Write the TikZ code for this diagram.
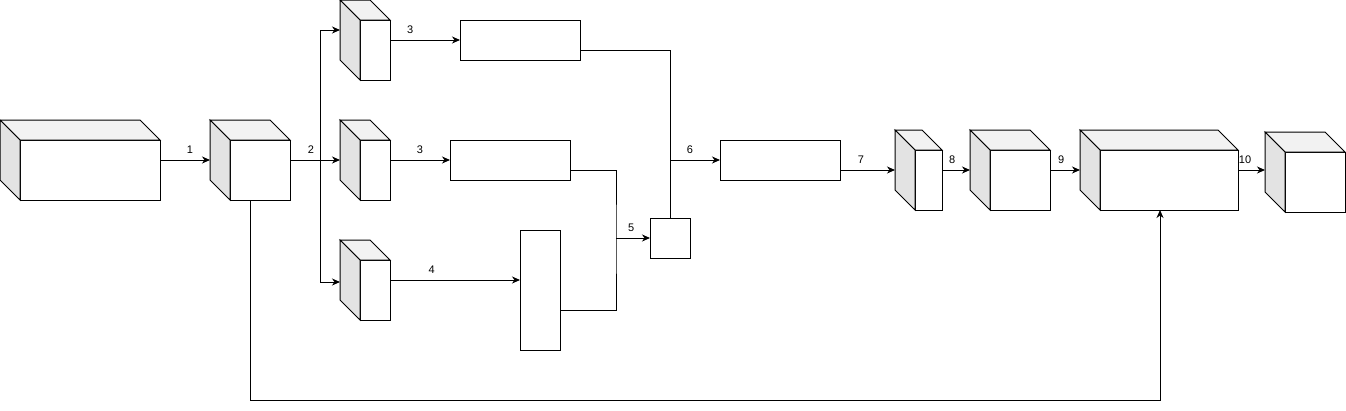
\documentclass[tikz,border=0pt]{standalone}
\usepackage{fontspec}
\setmainfont{Liberation Sans}
\usetikzlibrary{arrows.meta}

\begin{document}
\begin{tikzpicture}[
    x=1pt, y=-1pt,
    line width=1pt,
	block/.style={
	  rectangle,
	  draw=black,
	  fill=white,
	  inner sep=0pt,
	  outer sep=0pt
	},
	nummer/.style={
	  above,
	  inner sep=2pt,
	  yshift=4pt,
	  font=\fontsize{11}{13}\selectfont
	},
 	line/.style={draw, -{Stealth[length=8pt, width=7pt, inset=2.5pt]}},
 	wire/.style={draw}
	]
	\useasboundingbox (0, 0) rectangle (1346, 410);
    \node at (90, 170) [block, minimum width=140pt, minimum height=60pt] (source) {};
    \node at (260, 170) [block, minimum width=60pt, minimum height=60pt] (hub) {};
    \node at (375, 50) [block, minimum width=30pt, minimum height=60pt] (branchA) {};
    \node at (375, 170) [block, minimum width=30pt, minimum height=60pt] (branchB) {};
    \node at (375, 290) [block, minimum width=30pt, minimum height=60pt] (branchC) {};
    \node at (520, 40) [block, minimum width=120pt, minimum height=40pt] (procA) {};
    \node at (510, 160) [block, minimum width=120pt, minimum height=40pt] (procB) {};
    \node at (540, 290) [block, minimum width=40pt, minimum height=120pt] (procC) {};
    \node at (670, 238) [block, minimum width=40pt, minimum height=40pt] (fuse) {};
    \node at (780, 160) [block, minimum width=120pt, minimum height=40pt] (dense) {};
    \node at (928.5, 180) [block, minimum width=27pt, minimum height=60pt] (layerD) {};
    \node at (1020, 180) [block, minimum width=60pt, minimum height=60pt] (layerE) {};
    \node at (1169, 180) [block, minimum width=138pt, minimum height=60pt] (layerF) {};
    \node at (1315, 182) [block, minimum width=60pt, minimum height=60pt] (output) {};
    % depth faces of the boxes
    \foreach \n in {source, hub, branchA, branchB, branchC, layerD, layerE, layerF, output} {
      \filldraw[fill=black!5] (\n.north west) -- ++(-20, -20) -- ([shift={(-20, -20)}]\n.north east) -- (\n.north east) -- cycle;
      \filldraw[fill=black!11] (\n.north west) -- ++(-20, -20) -- ([shift={(-20, -20)}]\n.south west) -- (\n.south west) -- cycle;
    }
    \coordinate (split) at (320, 160);
    \coordinate (junction) at (616, 238);
    \coordinate (tap) at (670, 160);
    \coordinate (bottom) at (250, 400);
	\path[line] ([shift={(0, -10)}]source.east) -- node [nummer, pos=.6] {1} ([shift={(-20, -10)}]hub.west);
	\path[wire] ([shift={(0, -10)}]hub.east) -- node [nummer, pos=.7] {2} (split);
	\path[line] (split) |- ([shift={(-20, -20)}]branchA.west);
	\path[line] (split) -- ([shift={(-20, -10)}]branchB.west);
	\path[line] (split) |- ([shift={(-20, -8)}]branchC.west);
	\path[line] ([shift={(0, -10)}]branchA.east) -- node [nummer, pos=.29] {3} (procA.west);
	\path[line] ([shift={(0, -10)}]branchB.east) -- node [nummer, pos=.5] {3} (procB.west);
	\path[line] ([shift={(0, -10)}]branchC.east) -- node [nummer, pos=.32] {4} ([shift={(0, -10)}]procC.west);
	\path[wire] ([shift={(0, 10)}]procB.east) -| (junction) |- ([shift={(0, 20)}]procC.east);
	\path[line] (junction) -- node [nummer, pos=.45] {5} (fuse.west);
	\path[wire] ([shift={(0, 10)}]procA.east) -| (fuse.north);
	\path[line] (tap) -- node [nummer, pos=.4] {6} (dense.west);
	\path[line] ([shift={(0, 10)}]dense.east) -- node [nummer, pos=.38] {7} ([shift={(-20, -10)}]layerD.west);
	\path[line] ([shift={(0, -10)}]layerD.east) -- node [nummer, pos=.36] {8} ([shift={(-20, -10)}]layerE.west);
	\path[line] ([shift={(0, -10)}]layerE.east) -- node [nummer, pos=.37] {9} ([shift={(-20, -10)}]layerF.west);
	\path[line] ([shift={(0, -10)}]layerF.east) -- node [nummer, pos=.26] {10} ([shift={(-20, -12)}]output.west);
	\path[line] ([shift={(-10, 0)}]hub.south) -- (bottom) -| ([shift={(-9, 0)}]layerF.south);
  \end{tikzpicture}
\end{document}
